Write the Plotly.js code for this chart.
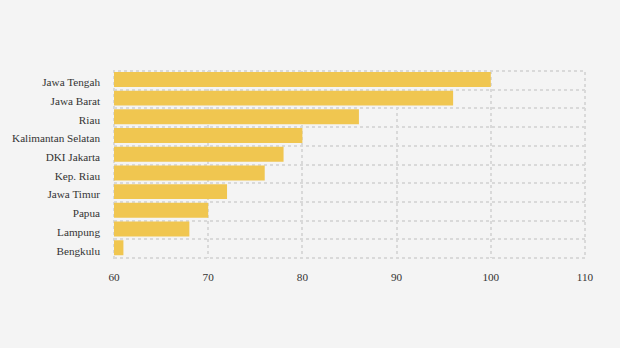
<!DOCTYPE html>
<html>
<head>
<meta charset="utf-8">
<script src="https://cdn.plot.ly/plotly-3.0.1.min.js"></script>
<style>html,body{margin:0;padding:0;background:#f4f4f4;}#chart{width:620px;height:348px;}</style>
</head>
<body>
<div id="chart"></div>
<script>
var provinces = ["Jawa Tengah","Jawa Barat","Riau","Kalimantan Selatan","DKI Jakarta","Kep. Riau","Jawa Timur","Papua","Lampung","Bengkulu"];
var values = [100, 96, 86, 80, 78, 76, 72, 70, 68, 61];
var xTicks = [60, 70, 80, 90, 100, 110];

var trace = {
  type: 'bar',
  orientation: 'h',
  y: provinces,
  x: values,
  base: 0,
  width: 0.8,
  offset: -0.45,
  marker: {color: '#F0C650'},
  hoverinfo: 'x+y'
};

var layout = {
  width: 620, height: 348,
  paper_bgcolor: '#f4f4f4', plot_bgcolor: '#f4f4f4',
  margin: {l: 114, r: 35, t: 71, b: 90},
  font: {family: '"Liberation Serif", "Times New Roman", serif', size: 11.2, color: '#333'},
  showlegend: false,
  xaxis: {
    range: [60, 110],
    tickvals: xTicks,
    ticktext: xTicks.map(String),
    showgrid: true, gridcolor: '#d9d9d9', gridwidth: 2, griddash: 'dot',
    zeroline: false, showline: false,
    ticks: '', ticklabelstandoff: 11,
    fixedrange: true
  },
  yaxis: {
    type: 'category',
    categoryorder: 'array', categoryarray: provinces,
    autorange: 'reversed',
    tickson: 'boundaries',
    showgrid: true, gridcolor: '#d9d9d9', gridwidth: 2, griddash: 'dot',
    zeroline: false, showline: false,
    ticks: '', ticklabelstandoff: 13, ticklabelshift: -2,
    fixedrange: true
  },
  shapes: [{
    type: 'rect', xref: 'paper', yref: 'paper', x0: 0, x1: 1, y0: 0, y1: 1,
    line: {color: '#d9d9d9', width: 2, dash: 'dot'}, layer: 'below'
  }]
};

Plotly.newPlot('chart', [trace], layout, {displayModeBar: false, staticPlot: true});
</script>
</body>
</html>
